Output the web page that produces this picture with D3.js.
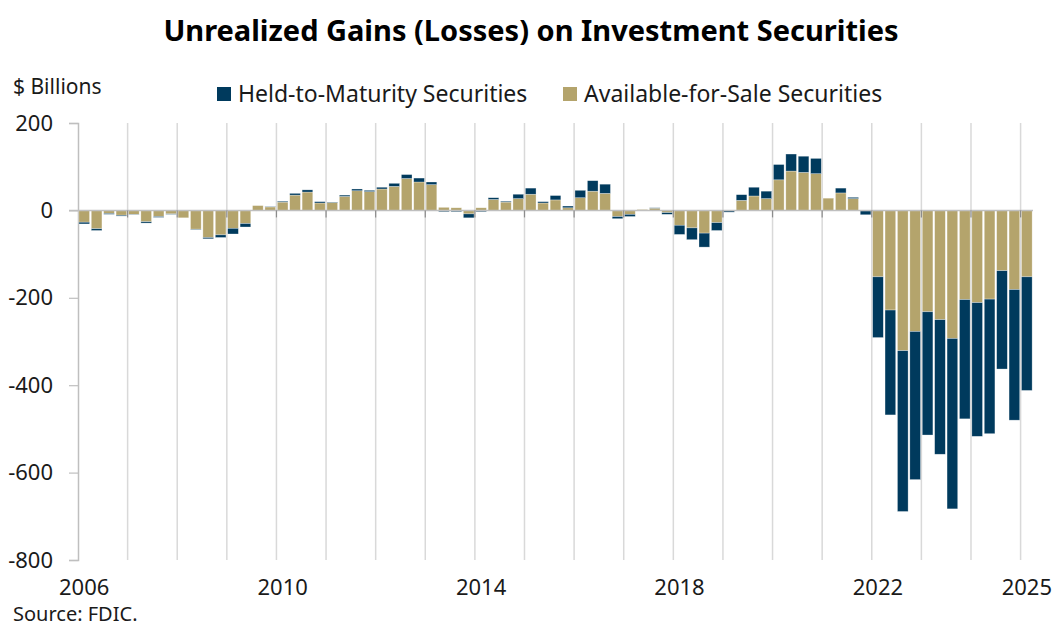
<!DOCTYPE html>
<html>
	<head>
		<meta charset="utf-8"/>
		<script type="text/javascript" src="https://cdn.jsdelivr.net/npm/d3@7/dist/d3.min.js"></script>
		<style>
			body {
				margin:0;
				background:#fff;
			}
			svg text {
				font-family:"Noto Sans", sans-serif;
				fill:#1a1a1a;
			}
			.title {
				font-size:29px;
				font-weight:bold;
				fill:#000;
				text-anchor:middle;
			}
			.lbl {
				font-size:21px;
			}
			.legend text {
				font-size:23px;
			}
		</style>
	</head>
	<body>
		<script>
			// quarterly data, 2006Q1 - 2025Q1, $ billions
			var years = d3.range(2006, 2026);
			var quarters = [];
			years.forEach(function(y) {
				for (var q = 1; q <= 4; q++) {
					if (y == 2025 && q > 1) break;
					quarters.push(y + "Q" + q);
				}
			});

			var afs = [
				-27, -42, -7, -11,  -9, -26, -14, -8,  -17, -43, -62, -56,  -41, -30, 11, 8,
				19, 35, 42, 17,  18, 32, 45, 43,  49, 55, 73, 65,  59, 7, 6, -8,
				6, 25, 19, 27,  37, 17, 24, 6,  29, 44, 39, -14,  -9, 2, 5, -5,
				-34, -40, -52, -28,  -1, 23, 33, 27,  70, 90, 87, 84,  28, 40, 27, -1,
				-152, -228, -321, -277,  -232, -250, -293, -204,  -211, -203, -138, -181,
				-152
			];
			var htm = [
				-4, -4, -2, -2,  -1, -3, -2, -1,  0, -1, -3, -6,  -13, -8, 0, 1,
				2, 4, 5, 3,  1, 3, 4, 3,  4, 7, 9, 9,  6, -3, -3, -9,
				-3, 4, 2, 10,  14, 3, 10, 4,  17, 24, 21, -5,  -5, 0, 1, -4,
				-21, -27, -32, -18,  -3, 13, 20, 17,  35, 39, 37, 35,  0, 11, 3, -9,
				-139, -240, -368, -339,  -282, -308, -390, -273,  -306, -308, -225, -299,
				-260
			];
			var yTicks = [200, 0, -200, -400, -600, -800];
			var xLabelYears = [2006, 2010, 2014, 2018, 2022, 2025];

			var width = 1057, height = 626;
			var plotLeft = 78, plotRight = 1033, plotTop = 123, plotBottom = 560;
			var pad = 0.14;
			var color_htm = "#003a5d";
			var color_afs = "#b4a46c";

			var svg = d3.select("body").append("svg")
				.attr("width", width)
				.attr("height", height);

			var x = d3.scaleBand()
				.domain(quarters)
				.range([plotLeft, plotRight])
				.paddingInner(pad)
				.paddingOuter(pad / 2);
			var y = d3.scaleLinear()
				.domain([-800, 200])
				.range([plotBottom, plotTop]);

			function yearEdge(yr) {
				return x(yr + "Q1") - x.step() * pad / 2;
			}

			// year gridlines
			svg.append("g").selectAll("line")
				.data(years.slice(1))
				.enter().append("line")
				.attr("x1", yearEdge).attr("x2", yearEdge)
				.attr("y1", plotTop).attr("y2", plotBottom)
				.attr("stroke", "#d9d9d9")
				.attr("stroke-width", 1.5);

			// y axis (plain hyphen for negatives, like the original)
			var yAxis = svg.append("g")
				.attr("transform", "translate(" + plotLeft + ",0)")
				.call(d3.axisLeft(y)
					.tickValues(yTicks)
					.tickFormat(function(d) { return String(d); })
					.tickSize(9)
					.tickPadding(16));
			yAxis.select(".domain").attr("stroke", "#bfbfbf").attr("stroke-width", 1.5);
			yAxis.selectAll(".tick line").attr("stroke", "#bfbfbf").attr("stroke-width", 1.2);
			yAxis.selectAll(".tick text")
				.style("font-size", "22px")
				.style("font-family", "'Noto Sans', sans-serif")
				.attr("fill", "#1a1a1a");

			// bars
			var rows = quarters.map(function(q, i) {
				return {q: q, afs: afs[i], htm: htm[i]};
			});
			var series = d3.stack()
				.keys(["afs", "htm"])
				.offset(d3.stackOffsetDiverging)(rows);
			var colors = {afs: color_afs, htm: color_htm};

			svg.append("g").selectAll("g")
				.data(series)
				.enter().append("g")
				.attr("fill", function(d) { return colors[d.key]; })
				.selectAll("rect")
				.data(function(d) { return d; })
				.enter().append("rect")
				.attr("x", function(d) { return x(d.data.q); })
				.attr("width", x.bandwidth())
				.attr("y", function(d) { return y(Math.max(d[0], d[1])); })
				.attr("height", function(d) { return Math.abs(y(d[0]) - y(d[1])); })
				.attr("stroke", "#fff")
				.attr("stroke-opacity", 0.5)
				.attr("stroke-width", 0.6);

			// zero line with small year ticks
			svg.append("line")
				.attr("x1", plotLeft - 9).attr("x2", plotRight)
				.attr("y1", y(0)).attr("y2", y(0))
				.attr("stroke", "#bfbfbf")
				.attr("stroke-width", 1.5);
			svg.append("g").selectAll("line")
				.data(years.slice(1))
				.enter().append("line")
				.attr("x1", yearEdge).attr("x2", yearEdge)
				.attr("y1", y(0)).attr("y2", y(0) + 7)
				.attr("stroke", "#8c8c8c")
				.attr("stroke-width", 1.2);

			// x labels
			svg.append("g").selectAll("text")
				.data(xLabelYears)
				.enter().append("text")
				.attr("class", "lbl")
				.style("font-size", "22px")
				.attr("x", function(d) { return x(d + "Q1") + x.bandwidth() / 2; })
				.attr("y", 595)
				.attr("text-anchor", "middle")
				.text(function(d) { return d; });

			// title, unit, legend, source
			svg.append("text")
				.attr("class", "title")
				.attr("x", 531)
				.attr("y", 41)
				.text("Unrealized Gains (Losses) on Investment Securities");
			svg.append("text")
				.attr("class", "lbl")
				.attr("x", 13)
				.attr("y", 94)
				.text("$ Billions");

			var legend = [
				{name: "Held-to-Maturity Securities", color: color_htm, x: 217},
				{name: "Available-for-Sale Securities", color: color_afs, x: 563}
			];
			var lg = svg.append("g")
				.attr("class", "legend")
				.selectAll("g")
				.data(legend)
				.enter().append("g")
				.attr("transform", function(d) { return "translate(" + d.x + ",87)"; });
			lg.append("rect")
				.attr("width", 14)
				.attr("height", 14)
				.attr("fill", function(d) { return d.color; });
			lg.append("text")
				.attr("x", 21)
				.attr("y", 15)
				.text(function(d) { return d.name; });

			svg.append("text")
				.attr("class", "lbl")
				.style("font-size", "20px")
				.attr("x", 13)
				.attr("y", 621)
				.text("Source: FDIC.");
		</script>
	</body>
</html>
